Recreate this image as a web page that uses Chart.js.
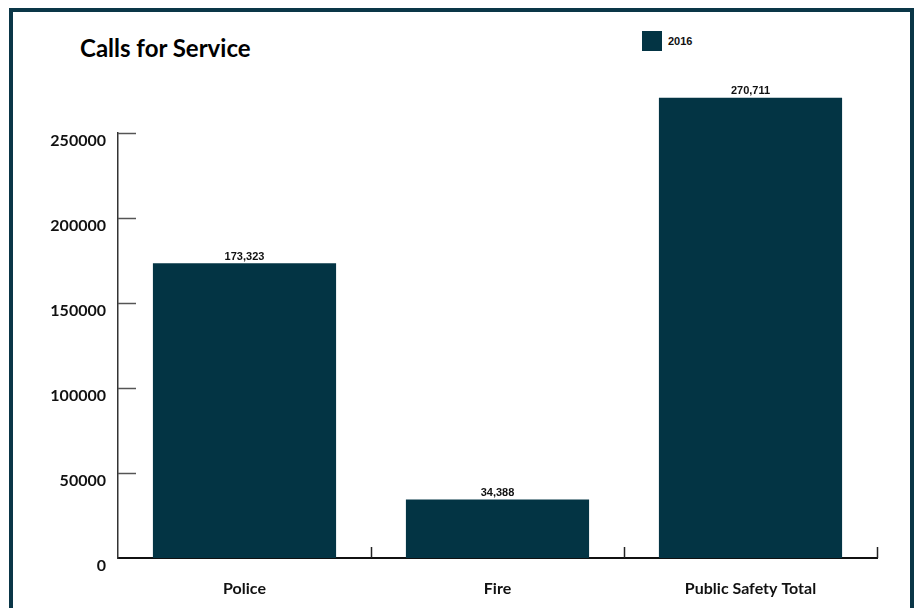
<!DOCTYPE html>
<html>
<head>
<meta charset="utf-8">
<title>Calls for Service</title>
<script src="https://cdn.jsdelivr.net/npm/chart.js@4.4.1/dist/chart.umd.min.js"></script>
<style>
    body { margin: 0; background: #fff; }
    .wrap { position: relative; width: 914px; height: 608px; overflow: hidden; }
    .frame {
        position: absolute; left: 9px; top: 8px; width: 897px; height: 640px;
        border: 4px solid #0a3647;
    }
    .chart-title {
        position: absolute; left: 80px; top: 33px; margin: 0;
        font: 700 24px Lato, "Noto Sans", sans-serif; color: #000;
    }
    .legend {
        position: absolute; left: 642px; top: 31px;
        display: flex; align-items: center;
        font: 700 11px "Liberation Sans", Arial, sans-serif; color: #111;
    }
    .legend .swatch { width: 20px; height: 20px; background: #033444; margin-right: 6px; }
    canvas { position: absolute; left: 0; top: 0; }
</style>
</head>
<body>
<div class="wrap">
    <div class="frame"></div>
    <h2 class="chart-title">Calls for Service</h2>
    <div class="legend"><span class="swatch"></span><span id="legend-text"></span></div>
    <canvas id="callsChart" width="914" height="608"></canvas>
</div>
<script>
// du lieu
const categories = ['Police', 'Fire', 'Public Safety Total'];
const seriesName = '2016';
const calls2016 = [173323, 34388, 270711];
const yTicks = [0, 50000, 100000, 150000, 200000, 250000];

const barColor = '#033444';

document.getElementById('legend-text').textContent = seriesName;

// vach chia truc ve phia trong + nhan gia tri tren cot
const axisMarks = {
    id: 'axisMarks',
    afterDraw(chart) {
        const ctx = chart.ctx;
        const x = chart.scales.x;
        const y = chart.scales.y;
        const area = chart.chartArea;
        ctx.save();
        // truc y
        ctx.strokeStyle = '#555';
        ctx.lineWidth = 1.5;
        yTicks.forEach(v => {
            if (v === 0) return;
            const py = Math.round(y.getPixelForValue(v)) + 0.5;
            ctx.beginPath();
            ctx.moveTo(area.left, py);
            ctx.lineTo(area.left + 18, py);
            ctx.stroke();
        });
        // truc x: vach o ranh gioi cac nhom
        ctx.strokeStyle = '#222';
        const step = area.width / categories.length;
        categories.forEach((c, i) => {
            const px = Math.round(x.getPixelForTick(i) + step / 2) + 0.5;
            ctx.beginPath();
            ctx.moveTo(px, area.bottom);
            ctx.lineTo(px, area.bottom - 11);
            ctx.stroke();
        });
        // nhan gia tri
        ctx.fillStyle = '#111';
        ctx.font = 'bold 11px "Liberation Sans", Arial, sans-serif';
        ctx.textAlign = 'center';
        ctx.textBaseline = 'bottom';
        chart.getDatasetMeta(0).data.forEach((bar, i) => {
            ctx.fillText(calls2016[i].toLocaleString('en-US'), bar.x, bar.y - 1);
        });
        ctx.restore();
    }
};

const ctx = document.getElementById('callsChart').getContext('2d');
const callsChart = new Chart(ctx, {
    type: 'bar',
    data: {
        labels: categories,
        datasets: [{
            label: seriesName,
            data: calls2016,
            backgroundColor: barColor,
            borderWidth: 0,
            categoryPercentage: 0.8,
            barPercentage: 0.905,
            clip: false
        }]
    },
    options: {
        responsive: false,
        animation: false,
        layout: {
            padding: { left: 0, right: 37, top: 133, bottom: 0 }
        },
        plugins: {
            legend: { display: false },
            tooltip: { enabled: false }
        },
        scales: {
            x: {
                grid: { display: false },
                border: { display: true, color: '#111', width: 2 },
                ticks: {
                    padding: 13,
                    color: '#111',
                    font: { family: 'Lato, "Noto Sans", sans-serif', size: 16, weight: 'bold' }
                },
                afterFit: (scale) => { scale.height = 50; }
            },
            y: {
                min: 0,
                max: 250000,
                grid: { display: false },
                border: { display: true, color: '#333', width: 1.5 },
                afterBuildTicks: (scale) => {
                    scale.ticks = yTicks.map(v => ({ value: v }));
                },
                ticks: {
                    padding: 4,
                    labelOffset: 8,
                    color: '#111',
                    font: { family: 'Lato, "Noto Sans", sans-serif', size: 16, weight: 'bold' },
                    callback: (value) => String(value)
                },
                afterFit: (scale) => { scale.width = 118; }
            }
        }
    },
    plugins: [axisMarks]
});
</script>
</body>
</html>
